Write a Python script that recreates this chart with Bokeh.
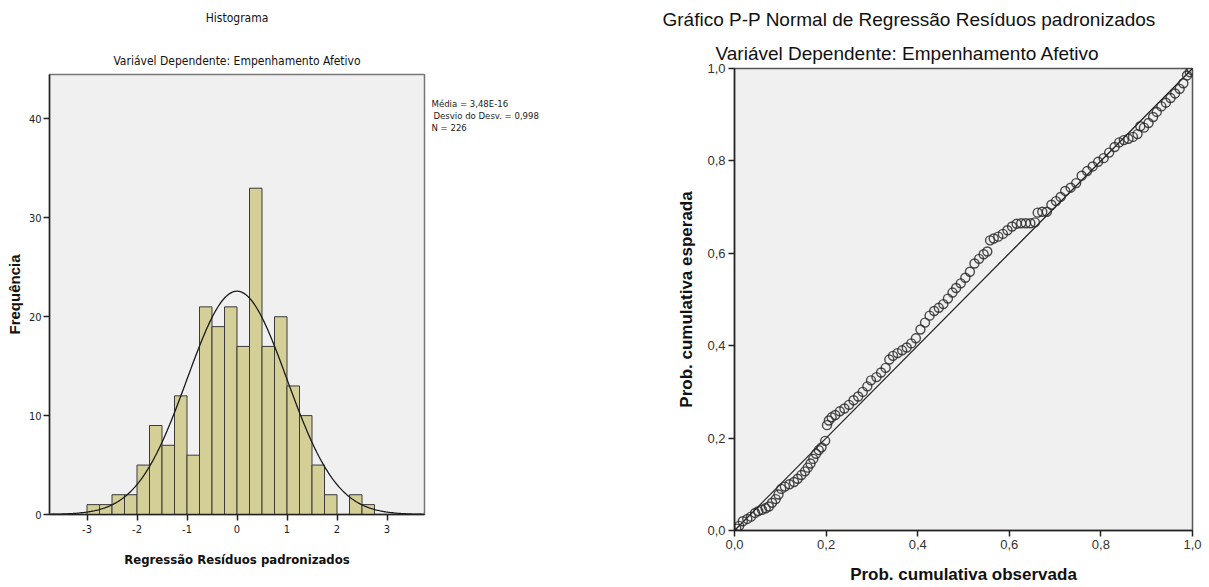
import numpy as np
from bokeh.plotting import figure
from bokeh.models import Range1d, FixedTicker, Title, CustomJSTickFormatter
from bokeh.core.properties import value
from bokeh.layouts import row
from bokeh.embed import file_html
from bokeh.resources import INLINE

# ---------------- data ----------------
# Histogram of standardized residuals (bin width 0.25, starting at -3.0)
bin_edges = [-3.0, -2.75, -2.5, -2.25, -2.0, -1.75, -1.5, -1.25, -1.0, -0.75, -0.5, -0.25,
             0.0, 0.25, 0.5, 0.75, 1.0, 1.25, 1.5, 1.75, 2.0, 2.25, 2.5, 2.75]
bin_counts = [1, 1, 2, 2, 5, 9, 7, 12, 6, 21, 19, 21, 17, 33, 17, 20, 13, 10, 5, 2, 0, 2, 1]
resid_mean = 3.48e-16
resid_sd = 0.998
resid_n = 226
hist_x_ticks = [-3, -2, -1, 0, 1, 2, 3]
hist_y_ticks = [0, 10, 20, 30, 40]
stats_lines = ["Média = 3,48E-16", "Desvio do Desv. = 0,998", "N = 226"]

# Normal P-P plot: observed vs expected cumulative probability
pp_observed = [0.004, 0.01, 0.018, 0.028, 0.036, 0.045, 0.052, 0.06, 0.068, 0.075,
               0.082, 0.09, 0.096, 0.102, 0.11, 0.12, 0.13, 0.138, 0.146, 0.154,
               0.16, 0.166, 0.172, 0.178, 0.184, 0.19, 0.198, 0.202, 0.206, 0.212,
               0.22, 0.23, 0.24, 0.25, 0.26, 0.27, 0.28, 0.29, 0.298, 0.31,
               0.32, 0.33, 0.338, 0.346, 0.356, 0.366, 0.376, 0.386, 0.396, 0.406,
               0.416, 0.426, 0.436, 0.446, 0.456, 0.466, 0.476, 0.484, 0.494, 0.504,
               0.514, 0.524, 0.534, 0.544, 0.552, 0.558, 0.566, 0.576, 0.586, 0.596,
               0.606, 0.616, 0.626, 0.636, 0.646, 0.656, 0.662, 0.672, 0.682, 0.692,
               0.702, 0.712, 0.722, 0.734, 0.746, 0.758, 0.77, 0.782, 0.794, 0.806,
               0.818, 0.83, 0.84, 0.85, 0.86, 0.87, 0.88, 0.886, 0.894, 0.904,
               0.914, 0.922, 0.932, 0.942, 0.952, 0.962, 0.972, 0.98, 0.988, 0.994, 0.998]
pp_expected = [0.004, 0.01, 0.02, 0.025, 0.03, 0.038, 0.042, 0.045, 0.048, 0.052,
               0.06, 0.068, 0.078, 0.09, 0.095, 0.1, 0.105, 0.112, 0.12, 0.128,
               0.136, 0.145, 0.155, 0.166, 0.174, 0.18, 0.194, 0.228, 0.238, 0.245,
               0.25, 0.258, 0.264, 0.272, 0.282, 0.29, 0.3, 0.312, 0.325, 0.332,
               0.342, 0.352, 0.37, 0.378, 0.384, 0.39, 0.396, 0.405, 0.416, 0.435,
               0.45, 0.465, 0.475, 0.482, 0.49, 0.502, 0.515, 0.525, 0.535, 0.547,
               0.56, 0.578, 0.588, 0.598, 0.604, 0.628, 0.632, 0.636, 0.642, 0.65,
               0.658, 0.664, 0.665, 0.665, 0.665, 0.667, 0.688, 0.69, 0.69, 0.705,
               0.713, 0.722, 0.735, 0.742, 0.752, 0.768, 0.778, 0.788, 0.798, 0.806,
               0.818, 0.83, 0.84, 0.845, 0.848, 0.852, 0.858, 0.875, 0.872, 0.882,
               0.895, 0.906, 0.918, 0.926, 0.936, 0.946, 0.956, 0.968, 0.985, 0.992, 0.997]
pp_reference = [0.0, 1.0]
pp_ticks = [0.0, 0.2, 0.4, 0.6, 0.8, 1.0]

COND = "DejaVu Sans Condensed"
SANS = "Liberation Sans"
BAR_FILL = "#d3cf97"
PANEL_BG = "#f0f0f0"


def style_axis(ax, ticks, font, size):
    ax.ticker = FixedTicker(ticks=ticks)
    ax.minor_tick_line_color = None
    ax.major_tick_in = 0
    ax.major_tick_out = 6
    ax.major_tick_line_color = "#222222"
    ax.major_tick_line_width = 1.5
    ax.axis_line_color = "#222222"
    ax.axis_line_width = 1.5
    ax.major_label_text_font = font
    ax.major_label_text_font_size = size
    ax.major_label_text_color = "#222222"
    ax.axis_label_text_color = "#111111"
    ax.axis_label_text_font_style = "bold"


# ---------------- histogram ----------------
p1 = figure(width=430, height=587, x_range=Range1d(-3.75, 3.75), y_range=Range1d(0, 44.5),
            output_backend="svg", toolbar_location=None,
            min_border_left=49, min_border_right=6, min_border_top=74, min_border_bottom=73)
p1.frame_align = False
p1.background_fill_color = PANEL_BG
p1.border_fill_color = "white"
p1.outline_line_color = "#777777"
p1.outline_line_width = 1.5
p1.grid.visible = False

p1.quad(left=bin_edges[:-1], right=bin_edges[1:], bottom=0, top=bin_counts,
        fill_color=BAR_FILL, line_color="#3a3a3a", line_width=1)

curve_x = np.linspace(-3.75, 3.75, 400)
bin_w = bin_edges[1] - bin_edges[0]
curve_y = resid_n * bin_w / (resid_sd * np.sqrt(2 * np.pi)) * np.exp(-0.5 * ((curve_x - resid_mean) / resid_sd) ** 2)
p1.line(curve_x, curve_y, line_color="#1a1a1a", line_width=1.3)

style_axis(p1.xaxis, hist_x_ticks, COND, "11px")
style_axis(p1.yaxis, hist_y_ticks, COND, "11px")
plain_fmt = CustomJSTickFormatter(code="return tick.toString();")
p1.xaxis.formatter = plain_fmt
p1.yaxis.formatter = plain_fmt
p1.yaxis.major_label_standoff = 2
p1.xaxis.major_label_standoff = 4
p1.yaxis.axis_label = "Frequência"
p1.yaxis.axis_label_text_font = SANS
p1.yaxis.axis_label_text_font_size = "15px"
p1.yaxis.axis_label_standoff = 3
p1.xaxis.axis_label = "Regressão Resíduos padronizados"
p1.xaxis.axis_label_text_font = COND
p1.xaxis.axis_label_text_font_size = "13px"
p1.xaxis.axis_label_standoff = 16

# outer title (trailing empty line lifts it toward the top edge)
p1.title.text = "Histograma\n"
p1.title.align = "center"
p1.title.text_font = COND
p1.title.text_font_size = "12px"
p1.title.text_font_style = "normal"
p1.title.text_color = "#111111"
p1.title.text_line_height = 1.0
p1.title.standoff = 12
# inner title (closest to the frame)
p1.add_layout(Title(text="Variável Dependente: Empenhamento Afetivo", align="center",
                    text_font=COND, text_font_size="12px", text_font_style="normal",
                    text_color="#111111", standoff=14), "above")

# ---------------- summary statistics (text beside the histogram) ----------------
ps = figure(width=170, height=587, x_range=Range1d(0, 170), y_range=Range1d(587, 0),
            output_backend="svg", toolbar_location=None,
            x_axis_location=None, y_axis_location=None,
            min_border_left=0, min_border_right=0, min_border_top=0, min_border_bottom=0)
ps.frame_align = False
ps.outline_line_color = None
ps.grid.visible = False
ps.background_fill_color = "white"
ps.border_fill_color = "white"
ps.text(x=[1, 3, 1], y=[103, 115, 127], text=stats_lines,
        text_font=value(COND), text_font_size="9.5px", text_color="#222222",
        text_baseline="middle", text_align="left")

# ---------------- P-P plot ----------------
p2 = figure(width=609, height=587, x_range=Range1d(0, 1), y_range=Range1d(0, 1),
            output_backend="svg", toolbar_location=None,
            min_border_left=134, min_border_right=17, min_border_top=67, min_border_bottom=57)
p2.frame_align = False
p2.background_fill_color = PANEL_BG
p2.border_fill_color = "white"
p2.outline_line_color = "#555555"
p2.outline_line_width = 1.5
p2.grid.visible = False

p2.line(pp_reference, pp_reference, line_color="#1a1a1a", line_width=1.2)
p2.scatter(pp_observed, pp_expected, marker="circle", size=9, fill_alpha=0,
           line_color="#2a2a2a", line_width=1.4, line_alpha=0.85)

comma_fmt = CustomJSTickFormatter(code="return tick.toFixed(1).replace('.', ',');")
for ax in (p2.xaxis, p2.yaxis):
    style_axis(ax, pp_ticks, SANS, "13px")
    ax.formatter = comma_fmt
    ax.major_label_standoff = 3
    ax.major_label_text_color = "#333333"
    ax.axis_label_text_font = SANS
    ax.axis_label_text_font_size = "17px"

p2.xaxis.axis_label = "Prob. cumulativa observada"
p2.xaxis.axis_label_standoff = 13
p2.yaxis.axis_label = "Prob. cumulativa esperada"
p2.yaxis.axis_label_standoff = 8

p2.title.text = "Gráfico P-P Normal de Regressão Resíduos padronizados"
p2.title.align = "left"
p2.title.offset = -72
p2.title.text_font = SANS
p2.title.text_font_size = "19px"
p2.title.text_font_style = "normal"
p2.title.text_color = "#111111"
p2.title.standoff = 13
p2.add_layout(Title(text="Variável Dependente: Empenhamento Afetivo", align="left",
                    offset=-19, text_font=SANS, text_font_size="19px", text_font_style="normal",
                    text_color="#111111", standoff=9), "above")

layout = row(p1, ps, p2, spacing=0)
open("out.html", "w").write(file_html(layout, INLINE))
